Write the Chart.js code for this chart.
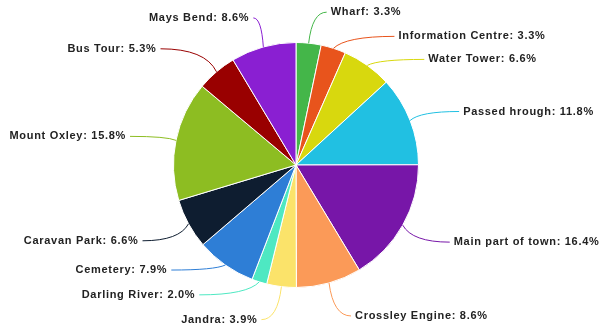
<!DOCTYPE html>
<html>
<head>
<meta charset="utf-8">
<script src="https://cdn.jsdelivr.net/npm/chart.js@4/dist/chart.umd.min.js"></script>
<style>
    html, body { margin: 0; padding: 0; background: #fff; }
    #wrap { width: 603px; height: 329px; position: relative; }
</style>
</head>
<body>
<div id="wrap"><canvas id="pie"></canvas></div>
<script>
    // data (percent of responses)
    const places = [
        "Wharf", "Information Centre", "Water Tower", "Passed hrough",
        "Main part of town", "Crossley Engine", "Jandra", "Darling River",
        "Cemetery", "Caravan Park", "Mount Oxley", "Bus Tour", "Mays Bend"
    ];
    const shares = [3.3, 3.3, 6.6, 11.8, 16.4, 8.6, 3.9, 2.0, 7.9, 6.6, 15.8, 5.3, 8.6];
    const sliceColors = [
        "#44b649", "#e8541c", "#d8d80e", "#21c0e2",
        "#7716a8", "#fb9a58", "#fbe36a", "#4ee8c2",
        "#2e7ed6", "#0e1d30", "#8dbd22", "#990000", "#8a1fd2"
    ];

    // where each label sits, relative to the slice's outer edge (layout only)
    const labelOffsets = [
        [22, -31], [65, -12], [61, -6], [53, -9],
        [51, 17], [26, 33], [-24, 33], [-64, 13],
        [-58, 5], [-50, 17], [-50, -4], [-60, -23], [-14, -29]
    ];

    const outsideLabels = {
        id: "outsideLabels",
        afterDatasetsDraw(chart) {
            const ctx = chart.ctx;
            const meta = chart.getDatasetMeta(0);
            ctx.save();
            ctx.font = "bold 11px 'Liberation Sans', Arial, sans-serif";
            ctx.letterSpacing = "0.7px";
            ctx.textBaseline = "middle";
            meta.data.forEach((arc, i) => {
                const p = arc.getProps(["x", "y", "startAngle", "endAngle", "outerRadius"], true);
                const a = (p.startAngle + p.endAngle) / 2;
                const ex = p.x + p.outerRadius * Math.cos(a);
                const ey = p.y + p.outerRadius * Math.sin(a);
                const off = labelOffsets[i];
                const ax = ex + off[0];
                const ay = ey + off[1];
                const right = off[0] >= 0;
                const endX = ax + (right ? -4 : 4);

                // leader line
                ctx.strokeStyle = sliceColors[i];
                ctx.lineWidth = 1;
                ctx.beginPath();
                ctx.moveTo(ex, ey);
                ctx.quadraticCurveTo(ex + (endX - ex) * 0.2, ay, endX, ay);
                ctx.stroke();

                // label text
                ctx.fillStyle = "#222";
                ctx.textAlign = right ? "left" : "right";
                ctx.fillText(places[i] + ": " + shares[i].toFixed(1) + "%", ax, ay);
            });
            ctx.restore();
        }
    };

    new Chart(document.getElementById("pie").getContext("2d"), {
        type: "pie",
        data: {
            labels: places,
            datasets: [{
                data: shares,
                backgroundColor: sliceColors,
                borderColor: "#ffffff",
                borderWidth: 1
            }]
        },
        options: {
            responsive: true,
            maintainAspectRatio: false,
            animation: false,
            layout: { padding: { top: 42, bottom: 41, left: 0, right: 11 } },
            plugins: {
                legend: { display: false },
                tooltip: { enabled: false }
            }
        },
        plugins: [outsideLabels]
    });
</script>
</body>
</html>
